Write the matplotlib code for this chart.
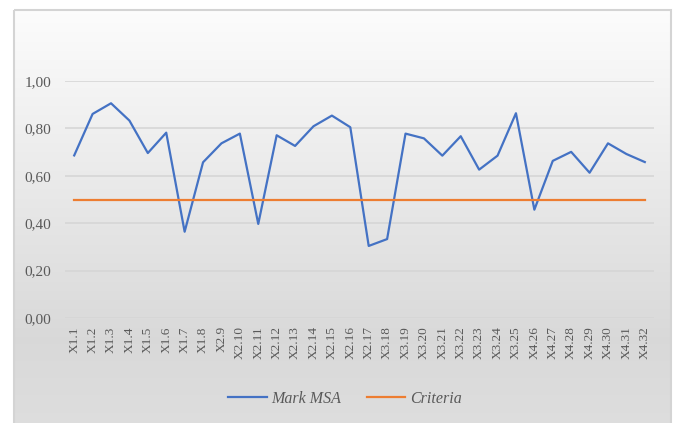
import numpy as np
from matplotlib import pyplot as plt
from matplotlib.patches import Rectangle

# data
labels = ['X1.1', 'X1.2', 'X1.3', 'X1.4', 'X1.5', 'X1.6', 'X1.7', 'X1.8',
          'X2.9', 'X2.10', 'X2.11', 'X2.12', 'X2.13', 'X2.14', 'X2.15', 'X2.16', 'X2.17',
          'X3.18', 'X3.19', 'X3.20', 'X3.21', 'X3.22', 'X3.23', 'X3.24', 'X3.25',
          'X4.26', 'X4.27', 'X4.28', 'X4.29', 'X4.30', 'X4.31', 'X4.32']
mark_msa = [0.686, 0.861, 0.906, 0.833, 0.696, 0.782, 0.364, 0.657,
            0.737, 0.778, 0.397, 0.771, 0.726, 0.809, 0.854, 0.805, 0.304,
            0.333, 0.778, 0.758, 0.685, 0.767, 0.626, 0.685, 0.864,
            0.457, 0.663, 0.701, 0.613, 0.737, 0.692, 0.658]
criteria = [0.5] * len(labels)
yticks = [0.0, 0.2, 0.4, 0.6, 0.8, 1.0]

W, H = 676, 423
fig = plt.figure(figsize=(W / 100, H / 100), dpi=100)
fig.patch.set_facecolor('white')

# gradient chart area with light frame
bg = fig.add_axes([0, 0, 1, 1], zorder=0)
bg.set_xlim(0, W)
bg.set_ylim(H, 0)
bg.axis('off')
rows = np.linspace(10, H + 5, 300)
shade = np.interp(rows, [10, 340, H + 5], [0.99, 0.85, 0.87])
img = np.repeat(shade[:, None, None], 3, axis=2)
bg.imshow(img, extent=[14, 671, H + 5, 10], aspect='auto', interpolation='bilinear')
bg.add_patch(Rectangle((14, 10), 657, H, fill=False, edgecolor='#d4d4d4', lw=1.5))

# plot area: x 65..654, y(1.0)=81, y(0)=318
x0, x1 = 65, 654
ytop, ybot = 81, 318
ax = fig.add_axes([x0 / W, 1 - ybot / H, (x1 - x0) / W, (ybot - ytop) / H], zorder=1)
ax.patch.set_alpha(0)

x = np.arange(len(labels))
l1, = ax.plot(x, mark_msa, color='#4472C4', lw=1.6, label='Mark MSA')
l2, = ax.plot(x, criteria, color='#ED7D31', lw=1.6, label='Criteria')

ax.set_xlim(-0.5, len(labels) - 0.5)
ax.set_ylim(0, 1.0)
ax.set_yticks(yticks)
ax.set_yticklabels([f'{v:.2f}'.replace('.', ',') for v in yticks],
                   fontfamily='Liberation Serif', fontsize=11, color='#595959')
ax.set_xticks(x)
ax.set_xticklabels(labels, rotation=90, fontfamily='Liberation Serif',
                   fontsize=9.5, color='#595959')
ax.tick_params(length=0, pad=6)
ax.tick_params(axis='y', pad=10)
for s in ax.spines.values():
    s.set_visible(False)
ax.grid(axis='y', color='#d6d6d6', lw=1.2)
ax.set_axisbelow(True)

fig.legend(handles=[l1, l2], loc='center', bbox_to_anchor=(345 / W, 1 - 399 / H),
           ncol=2, frameon=False, handlelength=2.4, columnspacing=1.6,
           handletextpad=0.3,
           prop={'family': 'Liberation Serif', 'style': 'italic', 'size': 11.5})
for t in fig.legends[0].get_texts():
    t.set_color('#595959')

fig.savefig('out.png', dpi=100)
